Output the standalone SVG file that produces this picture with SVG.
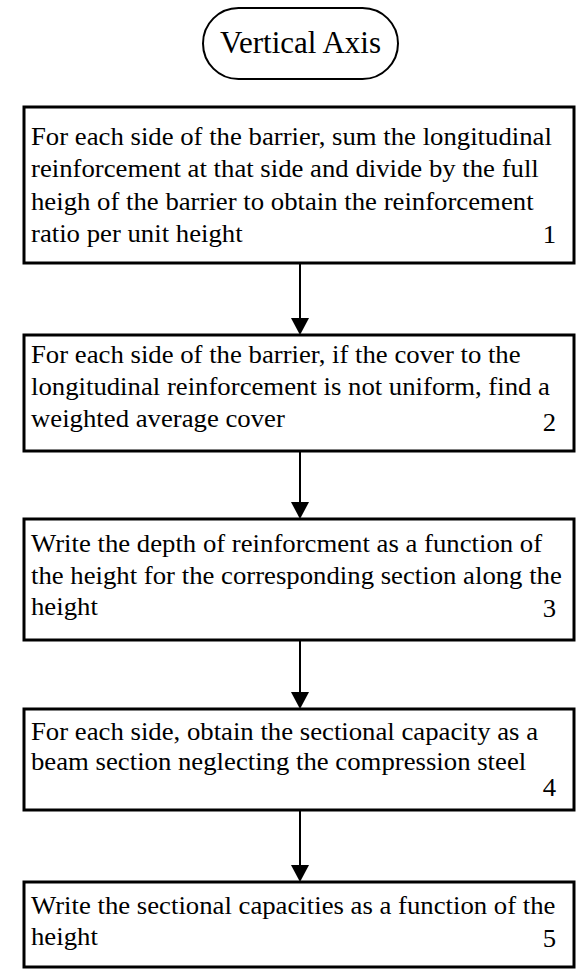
<svg xmlns="http://www.w3.org/2000/svg" width="577" height="969" viewBox="0 0 577 969">
<style>
.box{fill:#fff;stroke:#000;stroke-width:3}
.term{fill:#fff;stroke:#000;stroke-width:2}
text{font-family:'Liberation Serif','Times New Roman',serif;fill:#000}
.t{font-size:25px}
.tt{font-size:31px;text-anchor:middle}
.n{text-anchor:end}
.c{stroke:#000;stroke-width:2;fill:none}
</style>
<rect width="577" height="969" fill="#fff"/>
<g id="start">
<rect class="term" x="203" y="8" width="195" height="71" rx="35.5"/>
<text class="tt" x="300.5" y="53">Vertical Axis</text>
</g>
<g id="connectors">
<line class="c" x1="300" y1="264" x2="300" y2="318"/>
<path d="M291,318 L309,318 L300,335 Z"/>
<line class="c" x1="300" y1="452" x2="300" y2="502"/>
<path d="M291,502 L309,502 L300,519 Z"/>
<line class="c" x1="300" y1="641" x2="300" y2="692"/>
<path d="M291,692 L309,692 L300,709 Z"/>
<line class="c" x1="300" y1="811" x2="300" y2="865"/>
<path d="M291,865 L309,865 L300,882 Z"/>
</g>
<g id="step1">
<rect class="box" x="24" y="107" width="550" height="156"/>
<text class="t" transform="translate(31 145) scale(1.07 1)">For each side of the barrier, sum the longitudinal</text>
<text class="t" transform="translate(31 177) scale(1.07 1)">reinforcement at that side and divide by the full</text>
<text class="t" transform="translate(31 210) scale(1.07 1)">heigh of the barrier to obtain the reinforcement</text>
<text class="t" transform="translate(31 242) scale(1.07 1)">ratio per unit height</text>
<text class="t n" transform="translate(556 243) scale(1.07 1)">1</text>
</g>
<g id="step2">
<rect class="box" x="24" y="335" width="550" height="116"/>
<text class="t" transform="translate(31 363) scale(1.07 1)">For each side of the barrier, if the cover to the</text>
<text class="t" transform="translate(31 395) scale(1.07 1)">longitudinal reinforcement is not uniform, find a</text>
<text class="t" transform="translate(31 427) scale(1.07 1)">weighted average cover</text>
<text class="t n" transform="translate(556 431) scale(1.07 1)">2</text>
</g>
<g id="step3">
<rect class="box" x="24" y="519" width="550" height="121"/>
<text class="t" transform="translate(31 552) scale(1.07 1)">Write the depth of reinforcment as a function of</text>
<text class="t" transform="translate(31 584) scale(1.07 1)">the height for the corresponding section along the</text>
<text class="t" transform="translate(31 615) scale(1.07 1)">height</text>
<text class="t n" transform="translate(556 617) scale(1.07 1)">3</text>
</g>
<g id="step4">
<rect class="box" x="24" y="709" width="550" height="101"/>
<text class="t" transform="translate(31 740) scale(1.07 1)">For each side, obtain the sectional capacity as a</text>
<text class="t" transform="translate(31 770) scale(1.07 1)">beam section neglecting the compression steel</text>
<text class="t n" transform="translate(556 796) scale(1.07 1)">4</text>
</g>
<g id="step5">
<rect class="box" x="24" y="882" width="550" height="85"/>
<text class="t" transform="translate(31 914) scale(1.07 1)">Write the sectional capacities as a function of the</text>
<text class="t" transform="translate(31 945) scale(1.07 1)">height</text>
<text class="t n" transform="translate(556 947) scale(1.07 1)">5</text>
</g>
</svg>
